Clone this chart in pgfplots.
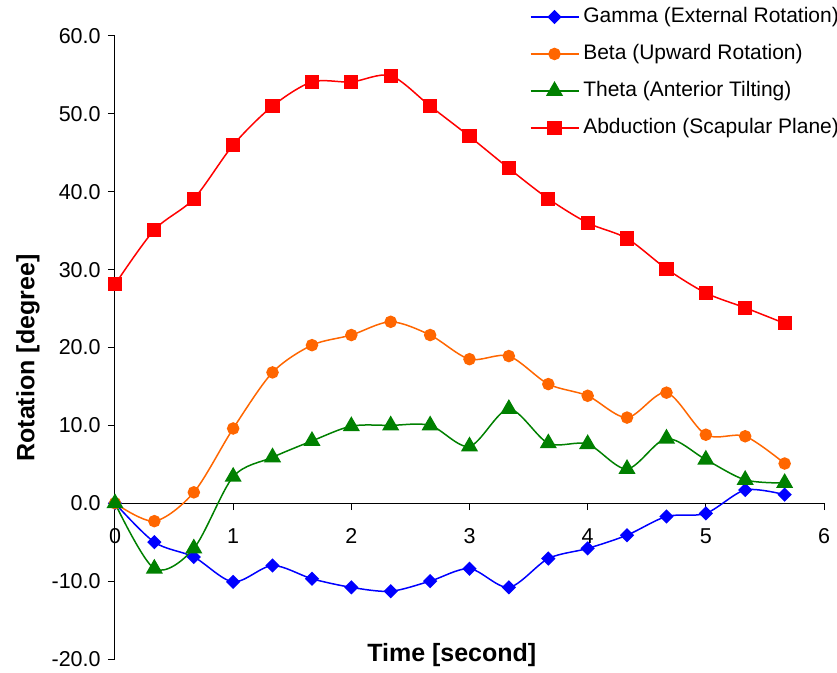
\documentclass[border=0pt]{standalone}
\usepackage{fontspec}
\setmainfont{Liberation Sans}
\usepackage{pgfplots}
\pgfplotsset{compat=1.18}

\definecolor{gammablue}{RGB}{0,0,255}
\definecolor{betaorange}{RGB}{255,102,0}
\definecolor{thetagreen}{RGB}{0,128,0}
\definecolor{abdred}{RGB}{255,0,0}

\begin{document}
\fontsize{10.5}{12.6}\selectfont
\begin{tikzpicture}
\begin{axis}[
    scale only axis, width=354.5pt, height=311.5pt,
    xmin=0, xmax=6, ymin=-20, ymax=60,
    axis x line*=middle, axis y line*=left,
    hide obscured x ticks=false, hide obscured y ticks=false,
    xtick={0,...,6}, ytick={-20,-10,...,60},
    tick align=outside, major tick length=3.5pt,
    tick style={black, line width=0.5pt},
    axis line style={black, line width=0.5pt},
    /pgf/number format/assume math mode=true,
    yticklabel style={/pgf/number format/.cd, fixed, fixed zerofill, precision=1},
    xticklabel style={yshift=-5.5pt},
    ticklabel style={font=\fontsize{10.75}{12.6}\selectfont},
    xlabel={\textbf{Time [second]}},
    ylabel={\textbf{Rotation [degree]}},
    xlabel style={at={(axis description cs:0.475,0.0064)}, anchor=center, font=\fontsize{12.5}{15}\selectfont},
    ylabel style={at={(axis description cs:-0.1227,0.483)}, anchor=center, font=\fontsize{12.5}{15}\selectfont},
    clip=false,
    legend cell align=left,
    legend style={at={(axis description cs:0.585,1.0506)}, anchor=north west,
        draw=none, fill=none, inner sep=0pt, outer sep=0pt,
        font=\fontsize{10.5}{12.6}\selectfont,
        nodes={inner sep=1pt, text height=8pt, text depth=2.5pt},
        row sep=6pt, column sep=1pt},
    legend image code/.code={%
        \draw[mark repeat=2, mark phase=2, #1] plot coordinates {(0pt,0pt) (12pt,0pt) (24pt,0pt)};},
    every axis plot/.append style={smooth, line width=0.75pt},
]
\coordinate (ll) at (rel axis cs:0,0);
\coordinate (ur) at (rel axis cs:1,1);

% Gamma (External Rotation)
\addplot[color=gammablue, mark=square*, mark size=2.15pt, mark options={rotate=45, solid}] coordinates {
    (0,0) (0.333,-5.0) (0.667,-6.9) (1,-10.1) (1.333,-8.0) (1.667,-9.7)
    (2,-10.8) (2.333,-11.3) (2.667,-10.0) (3,-8.4) (3.333,-10.8) (3.667,-7.1)
    (4,-5.8) (4.333,-4.1) (4.667,-1.7) (5,-1.3) (5.333,1.7) (5.667,1.1)
};
\addlegendentry{Gamma (External Rotation)}

% Beta (Upward Rotation)
\addplot[color=betaorange, mark=*, mark size=2.75pt] coordinates {
    (0,0) (0.333,-2.3) (0.667,1.4) (1,9.6) (1.333,16.8) (1.667,20.3)
    (2,21.6) (2.333,23.3) (2.667,21.6) (3,18.5) (3.333,18.9) (3.667,15.3)
    (4,13.8) (4.333,11.0) (4.667,14.2) (5,8.8) (5.333,8.6) (5.667,5.1)
};
\addlegendentry{Beta (Upward Rotation)}

% Theta (Anterior Tilting)
\addplot[color=thetagreen, mark=triangle*, mark size=4.2pt] coordinates {
    (0,0) (0.333,-8.4) (0.667,-5.8) (1,3.4) (1.333,5.9) (1.667,8.0)
    (2,9.9) (2.333,10.0) (2.667,10.0) (3,7.3) (3.333,12.1) (3.667,7.7)
    (4,7.6) (4.333,4.4) (4.667,8.3) (5,5.6) (5.333,3.0) (5.667,2.6)
};
\addlegendentry{Theta (Anterior Tilting)}

% Abduction (Scapular Plane)
\addplot[color=abdred, mark=square*, mark size=3.15pt] coordinates {
    (0,28.1) (0.333,35.1) (0.667,39.1) (1,46.0) (1.333,51.0) (1.667,54.1)
    (2,54.1) (2.333,54.9) (2.667,51.0) (3,47.1) (3.333,43.0) (3.667,39.1)
    (4,36.0) (4.333,34.0) (4.667,30.1) (5,27.0) (5.333,25.1) (5.667,23.1)
};
\addlegendentry{Abduction (Scapular Plane)}

\end{axis}
\pgfresetboundingbox
\useasboundingbox ([xshift=-57.5pt,yshift=-6.5pt]ll) rectangle ([xshift=6.5pt,yshift=18pt]ur);
\end{tikzpicture}
\end{document}
